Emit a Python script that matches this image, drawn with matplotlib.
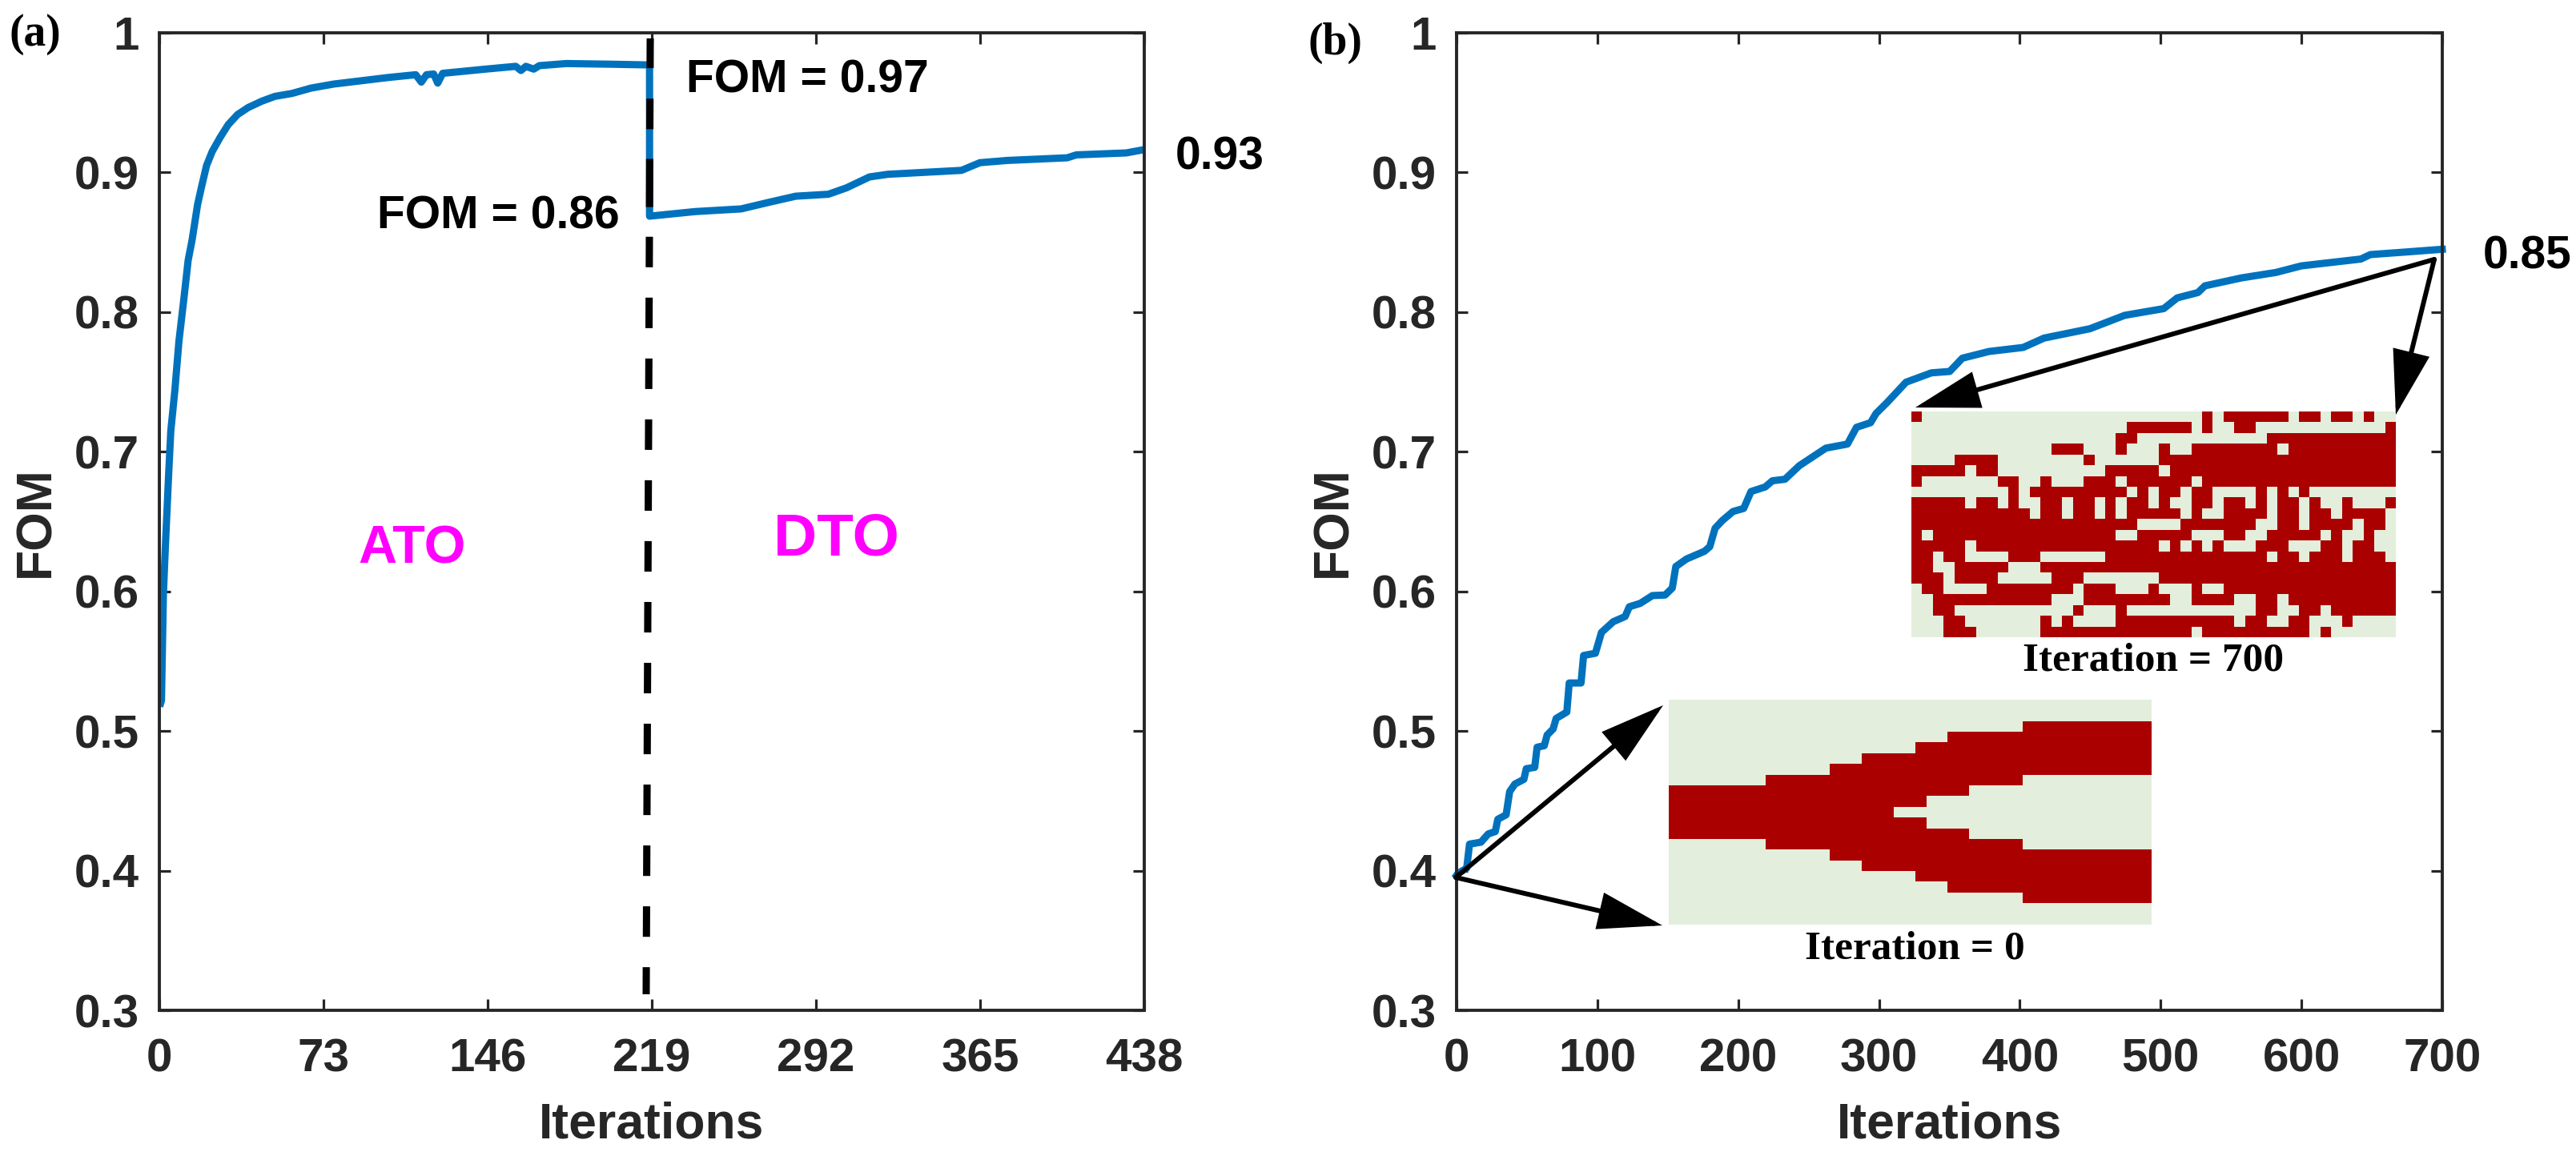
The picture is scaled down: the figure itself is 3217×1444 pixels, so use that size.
import numpy as np
import matplotlib
matplotlib.use('Agg')
import matplotlib.pyplot as plt
from matplotlib.colors import ListedColormap
from matplotlib.patches import FancyArrowPatch

W, H, dpi = 3217, 1444, 100

# panel (a), ATO then DTO
ato_iter = [0.6, 0.95, 1.8, 2.7, 4.2, 5.1, 6.9, 8.7, 10.8, 12.8, 14.6, 17, 18.8, 21, 23.5, 27, 30.6, 34.8, 39.5, 45.5,
            51.4, 59, 67.4, 77.5, 89.4, 101.7, 114, 116.5, 118.8, 122, 123.8, 126, 145, 158.5, 160.8, 163, 166.5, 169,
            181, 201.7, 218]
ato_fom = [0.52, 0.522, 0.598, 0.633, 0.686, 0.715, 0.744, 0.779, 0.808, 0.837, 0.852, 0.877, 0.890, 0.905, 0.915,
           0.925, 0.9342, 0.9415, 0.9465, 0.951, 0.9545, 0.9566, 0.9604, 0.9633, 0.9656, 0.968, 0.970, 0.9647, 0.970,
           0.9705, 0.964, 0.971, 0.974, 0.976, 0.973, 0.976, 0.974, 0.9765, 0.978, 0.9775, 0.977]
dto_iter = [218, 238.3, 258.7, 271, 283, 297.5, 305.6, 315.8, 324, 356.7, 364.9, 377, 403.7, 407.8, 430, 438]
dto_fom = [0.8687, 0.872, 0.8739, 0.8786, 0.883, 0.8844, 0.889, 0.8968, 0.8987, 0.9015, 0.907, 0.9086, 0.9105, 0.9126, 0.914, 0.9164]
split_iter = [218.3, 216.5]
split_fom = [0.996, 0.3115]

# panel (b)
b_iter = [0, 1, 7.2, 9.2, 17.3, 22.5, 27.5, 29.3, 35.2, 37.7, 41.4, 47.8, 49.5, 55.5, 57.2, 62.3, 64.3, 68.6, 70.7,
          78.3, 80, 88.4, 90.2, 98.6, 102.9, 111.3, 119.7, 122.7, 130.4, 139.1, 148.1, 153.2, 155.7, 163.3, 176,
          179.8, 183.6, 188.7, 196.3, 203.9, 209.1, 219.2, 224.3, 233.2, 243.4, 262.3, 277.6, 284, 294, 297.9, 305.5,
          319.2, 337.2, 350.2, 359.2, 378.1, 402.4, 417.2, 449.8, 474.5, 502.2, 511.8, 526.5, 531.4, 557.4, 581.9,
          599.9, 642.2, 648.9, 675, 700]
b_fom = [0.3966, 0.398, 0.4018, 0.419, 0.4204, 0.4263, 0.428, 0.4368, 0.44, 0.4566, 0.462, 0.4654, 0.473, 0.474, 0.4884,
         0.4895, 0.4971, 0.5015, 0.509, 0.5136, 0.5344, 0.5344, 0.5541, 0.5557, 0.5706, 0.5783, 0.582, 0.589, 0.5914,
         0.597, 0.5974, 0.6024, 0.6178, 0.6232, 0.6287, 0.632, 0.6452, 0.6507, 0.6572, 0.6594, 0.6715, 0.6748, 0.6792,
         0.6803, 0.690, 0.7026, 0.7055, 0.7175, 0.7208, 0.7274, 0.735,
         0.7498, 0.7565, 0.7575, 0.767, 0.7718, 0.7747, 0.7814, 0.7881, 0.7977, 0.8025, 0.8102, 0.814, 0.8188, 0.8245,
         0.8284, 0.8331, 0.838, 0.8412, 0.8431, 0.845]

a_xticks = [0, 73, 146, 219, 292, 365, 438]
b_xticks = [0, 100, 200, 300, 400, 500, 600, 700]
yticks = [0.3, 0.4, 0.5, 0.6, 0.7, 0.8, 0.9, 1]
ylabels = ['0.3', '0.4', '0.5', '0.6', '0.7', '0.8', '0.9', '1']

# device layouts, red cells per row as (first col, last col), 45 cols x 21 rows
layout_0 = [[], [], [(33, 44)], [(26, 44)], [(23, 44)], [(18, 44)], [(15, 44)], [(9, 32)], [(0, 27)], [(0, 23)],
            [(0, 20)], [(0, 23)], [(0, 27)], [(9, 32)], [(15, 44)], [(18, 44)], [(23, 44)], [(26, 44)], [(33, 44)],
            [], []]
layout_700 = [
    [(0, 0), (27, 27), (29, 34), (36, 37), (39, 40), (42, 42)],
    [(20, 25), (27, 27), (30, 31), (44, 44)],
    [(19, 20), (33, 44)],
    [(13, 15), (19, 19), (23, 23), (26, 33), (35, 44)],
    [(4, 7), (16, 16), (23, 44)],
    [(0, 4), (6, 7), (18, 22), (24, 44)],
    [(0, 0), (8, 9), (12, 12), (16, 18), (20, 25), (27, 44)],
    [(9, 9), (11, 19), (21, 21), (23, 24), (26, 27), (32, 32), (34, 34), (36, 36)],
    [(0, 4), (6, 7), (9, 9), (12, 13), (15, 16), (18, 18), (20, 21), (23, 23), (26, 27), (29, 30), (32, 32), (34, 35),
     (37, 37), (40, 40), (44, 44)],
    [(0, 10), (12, 13), (15, 16), (18, 18), (20, 24), (26, 26), (29, 32), (34, 35), (37, 38), (40, 43)],
    [(0, 20), (25, 31), (34, 35), (37, 40), (42, 43)],
    [(0, 0), (2, 18), (21, 25), (29, 30), (33, 37), (39, 39), (42, 42)],
    [(0, 4), (6, 22), (24, 24), (26, 26), (28, 28), (32, 34), (38, 39), (41, 42)],
    [(0, 1), (3, 4), (9, 11), (18, 32), (34, 35), (37, 39), (41, 43)],
    [(0, 1), (4, 8), (12, 44)],
    [(0, 2), (4, 7), (13, 15), (23, 44)],
    [(1, 2), (7, 14), (16, 18), (22, 22), (26, 26), (29, 44)],
    [(2, 12), (16, 23), (26, 29), (32, 33), (35, 44)],
    [(2, 3), (15, 15), (19, 19), (32, 33), (36, 37), (39, 44)],
    [(3, 4), (12, 12), (14, 14), (19, 29), (31, 32), (35, 36), (40, 40)],
    [(3, 5), (12, 25), (27, 36), (38, 38)],
]

BLUE = '#0072BD'
DARK = '#262626'
SANS = 'Liberation Sans'
SERIF = 'Liberation Serif'


def px_rect(x0, y0, x1, y1):
    # image pixels (y down) to a figure rect
    return [x0 / W, 1 - y1 / H, (x1 - x0) / W, (y1 - y0) / H]


def fx(x):
    return x / W


def fy(y):
    return 1 - y / H


def setup_axes(rect, xticks, xmax):
    ax = fig.add_axes(px_rect(*rect))
    ax.set_xlim(0, xmax)
    ax.set_ylim(0.3, 1)
    ax.set_xticks(xticks)
    ax.set_yticks(yticks)
    ax.set_yticklabels(ylabels)
    ax.tick_params(direction='in', length=10, width=2.3, top=True, right=True, color=DARK)
    ax.tick_params(axis='x', pad=25)
    ax.tick_params(axis='y', pad=18)
    for lab in ax.get_xticklabels() + ax.get_yticklabels():
        lab.set(family=SANS, weight='bold', fontsize=42, color=DARK)
    for s in ax.spines.values():
        s.set_linewidth(2.8)
        s.set_color(DARK)
    ax.set_xlabel('Iterations', family=SANS, weight='bold', fontsize=45, color=DARK, va='top')
    ax.xaxis.set_label_coords(0.5, -(1375 - 1262) / 1221)
    ax.set_ylabel('FOM', family=SANS, weight='bold', fontsize=45, color=DARK, va='center')
    ax.yaxis.set_label_coords(-154 / (rect[2] - rect[0]), 0.5)
    return ax


def draw_layout(rows, rect):
    grid = np.zeros((21, 45))
    for r, runs in enumerate(rows):
        for c0, c1 in runs:
            grid[r, c0:c1 + 1] = 1
    iax = fig.add_axes(px_rect(*rect))
    iax.imshow(grid, cmap=ListedColormap(['#E3EFDC', '#AA0000']), vmin=0, vmax=1, aspect='auto', interpolation='nearest')
    iax.axis('off')


def arrow(start, tip):
    a = (fx(start[0]), fy(start[1]))
    b = (fx(tip[0]), fy(tip[1]))
    fig.add_artist(FancyArrowPatch(a, b, transform=fig.transFigure, mutation_scale=1, shrinkA=0, shrinkB=0,
                                   arrowstyle='-|>,head_length=48,head_width=14', lw=4.3, color='black',
                                   joinstyle='miter'))


def label(x, y, s, size=41, color='black', family=SANS):
    # x, y is the left end of the baseline in image pixels
    fig.text(fx(x), fy(y), s, family=family, weight='bold', fontsize=size, color=color, ha='left', va='baseline')


fig = plt.figure(figsize=(W / dpi, H / dpi), dpi=dpi)

ax1 = setup_axes((199, 41, 1429, 1262), a_xticks, 438)
ax1.plot(ato_iter + dto_iter, ato_fom + dto_fom, color=BLUE, lw=6.5, solid_joinstyle='round')
# dashes in units of the line width, 9 px
dash_px = [37, 38, 38, 37, 60, 37] + [38, 37.8] * 13
ax1.plot(split_iter, split_fom, color='black', lw=6.5, dash_capstyle='butt',
         linestyle=(0, tuple(d / 9 for d in dash_px)))

ax2 = setup_axes((1819, 41, 3050, 1262), b_xticks, 700)
ax2.plot(b_iter, b_fom, color=BLUE, lw=6.5, solid_joinstyle='round', clip_on=False)

draw_layout(layout_0, (2084, 874, 2687, 1155))
draw_layout(layout_700, (2387, 514, 2991, 796))

arrow((1818, 1096), (2077, 881))
arrow((1818, 1096), (2076, 1156))
arrow((3040, 324), (2392, 509))
arrow((3040, 324), (2992, 518))

label(857, 115, 'FOM = 0.97')
label(471, 286, 'FOM = 0.86')
label(1468, 212, '0.93')
label(3101, 335, '0.85')
label(447, 703, 'ATO', size=48, color='#FF00FF')
label(966, 694, 'DTO', size=54, color='#FF00FF')
label(12, 57, '(a)', size=40, family=SERIF)
label(1633, 68, '(b)', size=40, family=SERIF)
label(2526, 838, 'Iteration = 700', size=37, family=SERIF)
label(2254, 1198, 'Iteration = 0', size=37, family=SERIF)

fig.savefig('out.png', dpi=dpi)
